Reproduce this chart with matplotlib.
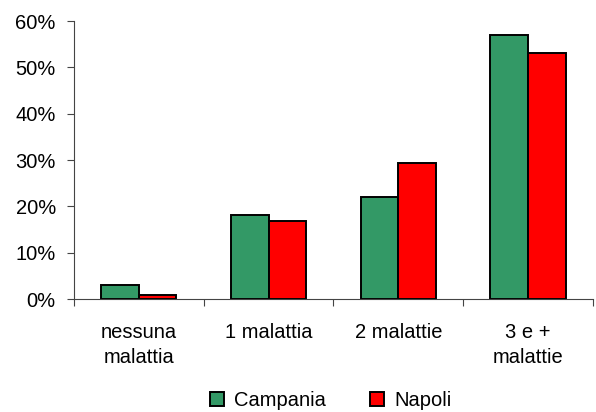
import numpy as np
from matplotlib import pyplot as plt
from matplotlib.ticker import PercentFormatter

categories = ['nessuna\nmalattia', '1 malattia', '2 malattie', '3 e +\nmalattie']
campania = [3.0, 18.1, 22.0, 57.0]
napoli = [0.9, 16.9, 29.4, 53.2]

plt.rcParams['font.family'] = ['Liberation Sans', 'DejaVu Sans']

fig = plt.figure(figsize=(5.96, 4.12), dpi=100)
ax = fig.add_axes([0.124, 0.274, 0.871, 0.675])

x = np.arange(len(categories))
width = 0.29
ax.bar(x - width / 2, campania, width, color='#339966', edgecolor='black',
       linewidth=1.4, label='Campania')
ax.bar(x + width / 2, napoli, width, color='#ff0000', edgecolor='black',
       linewidth=1.4, label='Napoli')

ax.set_xlim(-0.5, len(categories) - 0.5)
ax.set_ylim(0, 60)
ax.set_yticks(range(0, 61, 10))
ax.yaxis.set_major_formatter(PercentFormatter(decimals=0))

# category boundaries get the tick marks, labels sit in between
ax.set_xticks(np.arange(len(categories) + 1) - 0.5)
ax.set_xticklabels([])
ax.set_xticks(x, minor=True)
ax.set_xticklabels(categories, minor=True, linespacing=1.45)
ax.tick_params(axis='x', which='minor', length=0, pad=17, labelsize=14.5)
ax.tick_params(axis='x', which='major', length=5, color='#444444')
ax.tick_params(axis='y', length=5, pad=8, labelsize=14.5, color='#444444')

for side in ['top', 'right']:
    ax.spines[side].set_visible(False)
for side in ['left', 'bottom']:
    ax.spines[side].set_color('#444444')

fig.legend(loc='center', bbox_to_anchor=(0.555, 0.028), ncol=2, frameon=False,
           fontsize=14.5, handlelength=0.7, handleheight=0.7,
           handletextpad=0.5, columnspacing=2.2)

fig.savefig('out.png')
